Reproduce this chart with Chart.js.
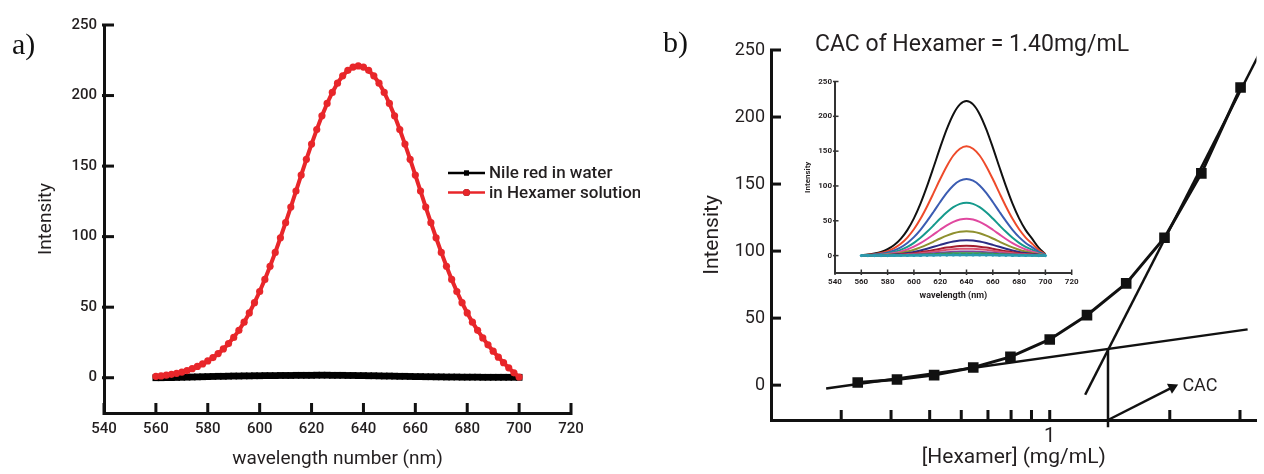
<!DOCTYPE html>
<html><head><meta charset="utf-8">
<script src="https://cdn.jsdelivr.net/npm/chart.js@4.4.0/dist/chart.umd.min.js"></script>
<style>
html,body{margin:0;padding:0;background:#fff;width:1264px;height:474px;overflow:hidden}
.box{position:absolute}
.lbl{position:absolute;font-family:"Liberation Serif","DejaVu Serif",serif;font-size:30px;color:#111;line-height:1}
</style></head><body>
<div class="box" style="left:0;top:0;width:640px;height:474px"><canvas id="ca" width="640" height="474"></canvas></div>
<div class="box" style="left:640px;top:0;width:624px;height:474px"><canvas id="cb" width="624" height="474"></canvas></div>
<div class="box" style="left:780px;top:60px;width:310px;height:250px"><canvas id="ci" width="310" height="250"></canvas></div>
<div class="lbl" style="left:12px;top:29px">a)</div>
<div class="lbl" style="left:663px;top:27px">b)</div>
<script>
const waveA = [560,562,564,566,568,570,572,574,576,578,580,582,584,586,588,590,592,594,596,598,600,602,604,606,608,610,612,614,616,618,620,622,624,626,628,630,632,634,636,638,640,642,644,646,648,650,652,654,656,658,660,662,664,666,668,670,672,674,676,678,680,682,684,686,688,690,692,694,696,698,700];
const waterA = [0.0,0.0,0.1,0.1,0.2,0.3,0.4,0.5,0.6,0.7,0.8,0.9,1.0,1.0,1.1,1.2,1.2,1.3,1.3,1.4,1.4,1.5,1.5,1.5,1.6,1.6,1.6,1.7,1.7,1.7,1.7,1.8,1.8,1.8,1.7,1.7,1.7,1.6,1.6,1.5,1.5,1.4,1.4,1.3,1.2,1.2,1.1,1.0,1.0,0.9,0.8,0.8,0.7,0.7,0.6,0.6,0.5,0.5,0.5,0.4,0.4,0.4,0.4,0.3,0.3,0.3,0.3,0.3,0.3,0.3,0.3];
const hexamerA = [1.0,1.3,1.8,2.4,3.1,4.0,5.1,6.4,8.0,9.8,11.9,14.3,17.1,20.4,24.2,28.6,33.6,39.4,45.9,53.2,61.1,69.7,79.0,88.8,99.2,109.9,121.0,132.3,143.6,154.8,165.6,175.9,185.6,194.4,202.2,208.8,214.0,217.9,220.2,221.0,220.2,217.9,214.0,208.8,202.2,194.4,185.6,175.9,165.6,154.8,143.6,132.3,121.0,109.9,99.2,88.8,79.0,69.7,61.1,53.2,45.9,39.4,33.6,28.2,23.3,18.8,14.6,10.7,7.0,3.5,0.5];
const xTicksA = [540,560,580,600,620,640,660,680,700,720];
const yTicksA = [0,50,100,150,200,250];
const labelsA = ["Nile red in water","in Hexamer solution"];

const concB = [0.33,0.414,0.513,0.643,0.797,1.0,1.24,1.555,1.94,2.40,3.01];
const intensB = [2.0,4.2,7.5,13.2,21.1,34.1,52.2,75.9,110,158,222];
const fitLowX = [0.275,3.135];
const fitLowY = [-2.5,41.6];
const fitHighX = [1.227,3.4];
const fitHighY = [-7.2,250.6];
const cacX = [1.40,1.40];
const cacY = [27.4,-31.5];
const arrowX = [1.40,2.03];
const arrowY = [-26,-1.6];
const arrowTip = [2.09,0];
const xTicksB = [0.3,0.4,0.5,0.6,0.7,0.8,0.9,1,2,3];
const yTicksB = [0,50,100,150,200,250];
const titleB = "CAC of Hexamer = 1.40mg/mL";

const waveIn = [560,565,570,575,580,585,590,595,600,605,610,615,620,625,630,635,640,645,650,655,660,665,670,675,680,685,690,695,700];
const in222 = [0.7,1.6,2.9,5.1,9.1,15.1,24.0,36.6,53.5,74.6,99.7,127.2,155.4,181.6,203.1,217.1,222,217.1,203.1,181.6,155.4,127.2,99.7,74.6,53.5,36.6,24.0,11.1,2.2];
const in157 = [0.5,1.1,2.0,3.6,6.4,10.7,17.0,25.9,37.8,52.8,70.5,90.0,109.9,128.4,143.7,153.5,157,153.5,143.7,128.4,109.9,90.0,70.5,52.8,37.8,25.9,17.0,7.9,1.6];
const in110 = [0.3,0.8,1.4,2.5,4.5,7.5,11.9,18.2,26.5,37.0,49.4,63.0,77.0,90.0,100.7,107.6,110,107.6,100.7,90.0,77.0,63.0,49.4,37.0,26.5,18.2,11.9,5.5,1.1];
const in76 = [0.2,0.5,1.0,1.7,3.1,5.2,8.2,12.5,18.3,25.5,34.1,43.5,53.2,62.2,69.5,74.3,76,74.3,69.5,62.2,53.2,43.5,34.1,25.5,18.3,12.5,8.2,3.8,0.8];
const in53 = [0.2,0.4,0.7,1.2,2.2,3.6,5.7,8.7,12.8,17.8,23.8,30.4,37.1,43.4,48.5,51.8,53,51.8,48.5,43.4,37.1,30.4,23.8,17.8,12.8,8.7,5.7,2.7,0.5];
const in35 = [0.1,0.2,0.5,0.8,1.4,2.4,3.8,5.8,8.4,11.8,15.7,20.1,24.5,28.6,32.0,34.2,35,34.2,32.0,28.6,24.5,20.1,15.7,11.8,8.4,5.8,3.8,1.8,0.4];
const in22 = [0.1,0.2,0.3,0.5,0.9,1.5,2.4,3.6,5.3,7.4,9.9,12.6,15.4,18.0,20.1,21.5,22,21.5,20.1,18.0,15.4,12.6,9.9,7.4,5.3,3.6,2.4,1.1,0.2];
const in14 = [0,0.1,0.2,0.3,0.6,1.0,1.5,2.3,3.4,4.7,6.3,8.0,9.8,11.5,12.8,13.7,14,13.7,12.8,11.5,9.8,8.0,6.3,4.7,3.4,2.3,1.5,0.7,0.1];
const in10 = [0,0.1,0.1,0.2,0.4,0.7,1.1,1.7,2.4,3.4,4.5,5.7,7.0,8.2,9.2,9.8,10,9.8,9.2,8.2,7.0,5.7,4.5,3.4,2.4,1.7,1.1,0.5,0.1];
const in6 = [0,0,0.1,0.1,0.2,0.4,0.6,1.0,1.4,2.0,2.7,3.4,4.2,4.9,5.5,5.9,6,5.9,5.5,4.9,4.2,3.4,2.7,2.0,1.4,1.0,0.6,0.3,0.1];
const in3 = [0,0,0,0.1,0.1,0.2,0.4,0.6,0.8,1.2,1.6,2.0,2.5,2.9,3.2,3.4,3.5,3.4,3.2,2.9,2.5,2.0,1.6,1.2,0.8,0.6,0.4,0.2,0];
const in1 = [0,0,0,0,0,0.1,0.1,0.2,0.2,0.3,0.4,0.6,0.7,0.8,0.9,1,1,1,0.9,0.8,0.7,0.6,0.4,0.3,0.2,0.2,0.1,0,0];
const insetSeries = [in222,in157,in110,in76,in53,in35,in22,in14,in10,in6,in3,in1];
const insetColors = ["#111111","#ee4b2b","#3b5cb2","#159a8c","#e0489f","#8f902f","#2b2c84","#a31c2e","#d9506e","#7d44a0","#3a9a40","#2a9ab0"];
const xTicksIn = [540,560,580,600,620,640,660,680,700,720];
const yTicksIn = [0,50,100,150,200,250];

Chart.defaults.font.family = "Roboto, 'Open Sans', sans-serif";
Chart.defaults.color = "#231f20";
const xy = (xs, ys) => xs.map((x, i) => ({x: x, y: ys[i]}));
const fixTicks = vals => (s => { s.ticks = vals.map(v => ({value: v})); });

// inward tick marks, placed through the chart's own scales
function makeInTicks(cfg) {
  return {
    id: 'inTicks',
    afterDraw(chart) {
      const ctx = chart.ctx, ca = chart.chartArea;
      const xs = chart.scales.x, ys = chart.scales.y;
      ctx.save();
      ctx.fillStyle = cfg.color;
      const w = cfg.width;
      cfg.xt.forEach(v => {
        const p = xs.getPixelForValue(v);
        ctx.fillRect(p - w / 2, ca.bottom - cfg.len, w, cfg.len + cfg.out);
      });
      cfg.yt.forEach(v => {
        const p = ys.getPixelForValue(v);
        ctx.fillRect(ca.left - cfg.out, p - w / 2, cfg.len + cfg.out, w);
      });
      ctx.restore();
    }
  };
}

const legendA = {
  id: 'legendA',
  afterDraw(chart) {
    const ctx = chart.ctx;
    const items = [chart.data.datasets[0], chart.data.datasets[1]];
    ctx.save();
    items.forEach((ds, i) => {
      const y = 173 + i * 19.5, x0 = 448, x1 = 485;
      ctx.strokeStyle = ds.borderColor; ctx.lineWidth = 2.5;
      ctx.beginPath(); ctx.moveTo(x0, y); ctx.lineTo(x1, y); ctx.stroke();
      Chart.helpers.drawPoint(ctx, {pointStyle: ds.pointStyle, radius: 3.5, borderWidth: 0, rotation: 0}, (x0 + x1) / 2, y);
      ctx.fillStyle = ds.borderColor; ctx.fill();
      ctx.fillStyle = '#231f20';
      ctx.font = "500 17px Roboto, sans-serif";
      ctx.textBaseline = 'middle'; ctx.textAlign = 'left';
      ctx.fillText(ds.label, 489, y + 1);
    });
    ctx.restore();
  }
};

const textB = {
  id: 'textB',
  afterDraw(chart) {
    const ctx = chart.ctx, ca = chart.chartArea;
    const xs = chart.scales.x, ys = chart.scales.y;
    ctx.save();
    ctx.fillStyle = '#231f20';
    ctx.font = "23px Roboto, sans-serif";
    ctx.textBaseline = 'middle'; ctx.textAlign = 'left';
    ctx.fillText(titleB, ca.left + 44, 45);
    ctx.font = "18px Roboto, sans-serif";
    ctx.fillText("CAC", xs.getPixelForValue(arrowTip[0]) + 5, ys.getPixelForValue(arrowTip[1]) + 1);
    ctx.restore();
  }
};

new Chart(document.getElementById('ca'), {
  type: 'line',
  data: {
    datasets: [
      {label: labelsA[0], data: xy(waveA, waterA), borderColor: '#000', backgroundColor: '#000', borderWidth: 4,
       pointStyle: 'rect', pointRadius: 4.8, pointBorderWidth: 0, pointBackgroundColor: '#000', order: 2},
      {label: labelsA[1], data: xy(waveA, hexamerA), borderColor: '#e8262a', backgroundColor: '#e8262a', borderWidth: 4,
       pointStyle: 'circle', pointRadius: 3.6, pointBorderWidth: 0, pointBackgroundColor: '#e8262a', order: 1}
    ]
  },
  options: {
    responsive: false, animation: false, events: [],
    layout: {padding: {top: 25, right: 69, left: 0, bottom: 0}},
    plugins: {legend: {display: false}, tooltip: {enabled: false}},
    scales: {
      x: {type: 'linear', min: 540, max: 720, afterBuildTicks: fixTicks(xTicksA),
          afterFit: s => { s.height = 61; },
          grid: {display: false, drawTicks: false}, border: {display: true, width: 3, color: '#111'},
          ticks: {padding: 7, font: {size: 15, weight: '500'}, maxRotation: 0, autoSkip: false},
          title: {display: true, text: 'wavelength number (nm)', font: {size: 19}, padding: {top: 0, bottom: 3}}},
      y: {type: 'linear', min: -25, max: 250, afterBuildTicks: fixTicks(yTicksA),
          afterFit: s => { s.width = 104; },
          grid: {display: false, drawTicks: false}, border: {display: true, width: 3, color: '#111'},
          ticks: {padding: 7, font: {size: 15, weight: '500'}, autoSkip: false},
          title: {display: true, text: 'Intensity', font: {size: 19}, padding: {top: 35, bottom: 0}}}
    }
  },
  plugins: [makeInTicks({xt: xTicksA, yt: yTicksA, len: 10, out: 2, width: 3, color: '#111'}), legendA]
});

const thin = {pointRadius: 0, borderColor: '#111', borderWidth: 2.5, fill: false};
new Chart(document.getElementById('cb'), {
  type: 'line',
  data: {
    datasets: [
      {label: 'Intensity', data: xy(concB, intensB), borderColor: '#111', backgroundColor: '#111', borderWidth: 3,
       pointStyle: 'rect', pointRadius: 7.5, pointBorderWidth: 0, pointBackgroundColor: '#111'},
      Object.assign({label: 'fit low', data: xy(fitLowX, fitLowY)}, thin),
      Object.assign({label: 'fit high', data: xy(fitHighX, fitHighY)}, thin),
      Object.assign({label: 'CAC line', data: xy(cacX, cacY), clip: false}, thin),
      {label: 'arrow', data: xy(arrowX, arrowY), borderColor: '#111', backgroundColor: '#111', borderWidth: 2.5, clip: false,
       pointStyle: 'triangle', pointRadius: [0, 6.5], pointBorderWidth: 0, pointBackgroundColor: '#111', pointRotation: 63.4}
    ]
  },
  options: {
    responsive: false, animation: false, events: [],
    layout: {padding: {top: 50, right: 0, left: 0, bottom: 0}},
    plugins: {legend: {display: false}, tooltip: {enabled: false}},
    scales: {
      x: {type: 'logarithmic', min: 0.2, max: 3.3, afterBuildTicks: fixTicks(xTicksB),
          afterFit: s => { s.height = 54; },
          grid: {display: false, drawTicks: false}, border: {display: true, width: 3, color: '#111'},
          ticks: {padding: 5, font: {size: 20}, maxRotation: 0, autoSkip: false, callback: v => (v === 1 ? '1' : '')},
          title: {display: true, text: '[Hexamer] (mg/mL)', font: {size: 21}, padding: {top: 0, bottom: 4}}},
      y: {type: 'linear', min: -26, max: 250, afterBuildTicks: fixTicks(yTicksB),
          afterFit: s => { s.width = 131; },
          grid: {display: false, drawTicks: false}, border: {display: true, width: 3, color: '#111'},
          ticks: {padding: 6, font: {size: 18}, autoSkip: false},
          title: {display: true, text: 'Intensity', font: {size: 21}, padding: {top: 60, bottom: 0}}}
    }
  },
  plugins: [makeInTicks({xt: xTicksB, yt: yTicksB, len: 10, out: 1, width: 3, color: '#111'}), textB]
});

const insetDatasets = insetSeries.map((s, i) => {
  const last = i === insetSeries.length - 1;
  return {label: 'c' + i, data: xy(waveIn, s), borderColor: insetColors[i], borderWidth: last ? 2.5 : 2,
    pointRadius: last ? 1.6 : 0, pointBackgroundColor: insetColors[i], pointBorderWidth: 0,
    tension: 0.3, order: last ? 0 : insetSeries.length - i};
});
new Chart(document.getElementById('ci'), {
  type: 'line',
  data: {datasets: insetDatasets},
  options: {
    responsive: false, animation: false, events: [],
    layout: {padding: {top: 21.5, right: 18.3, left: 0, bottom: 0}},
    plugins: {legend: {display: false}, tooltip: {enabled: false}},
    scales: {
      x: {type: 'linear', min: 540, max: 720, afterBuildTicks: fixTicks(xTicksIn),
          afterFit: s => { s.height = 37; },
          grid: {display: false, drawTicks: false}, border: {display: true, width: 2, color: '#333'},
          ticks: {padding: 4, font: {size: 8, weight: 'bold'}, maxRotation: 0, autoSkip: false},
          title: {display: true, text: 'wavelength (nm)', font: {size: 9, weight: 'bold'}, padding: {top: 0, bottom: 9}}},
      y: {type: 'linear', min: -25, max: 250, afterBuildTicks: fixTicks(yTicksIn),
          afterFit: s => { s.width = 55; },
          grid: {display: false, drawTicks: false}, border: {display: true, width: 2, color: '#333'},
          ticks: {padding: 3, font: {size: 8, weight: 'bold'}, autoSkip: false},
          title: {display: true, text: 'Intensity', font: {size: 8, weight: 'bold'}, padding: {top: 23, bottom: 0}}}
    }
  },
  plugins: [makeInTicks({xt: xTicksIn, yt: yTicksIn, len: 3.5, out: 2, width: 1.5, color: '#333'})]
});
</script>
</body></html>
